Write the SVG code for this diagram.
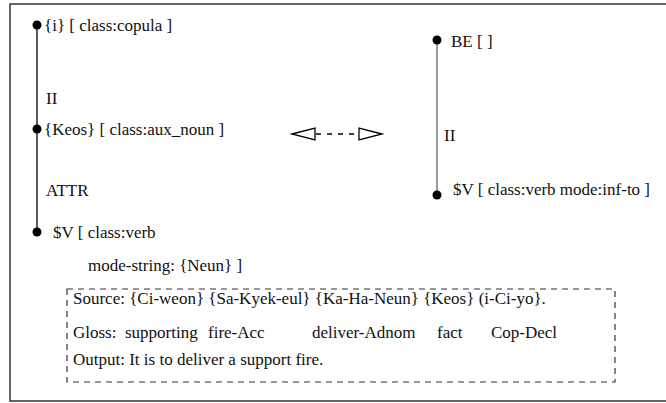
<svg xmlns="http://www.w3.org/2000/svg" width="666" height="403" viewBox="0 0 666 403">
  <style>
    text { font-family: "Liberation Serif", "DejaVu Serif", "Times New Roman", Times, serif; font-size: 17px; fill: #111; }
    .dot { fill: #000; }
    .edge { stroke: #000; stroke-width: 1.3; fill: none; }
    .edge-gray { stroke: #777; stroke-width: 1.5; fill: none; }
    .frame { fill: #fff; stroke: #333; stroke-width: 1.5; }
    .example { fill: none; stroke: #333; stroke-width: 1.2; stroke-dasharray: 6 5; }
    .arrow { fill: #fff; stroke: #000; stroke-width: 1.3; }
    .dash { stroke: #000; stroke-width: 1.3; stroke-dasharray: 5 6; }
  </style>

  <!-- outer frame (open to the right edge) -->
  <rect class="frame" x="10" y="4" width="680" height="397"/>

  <!-- connectors -->
  <g id="connectors">
    <line class="edge" x1="37" y1="25" x2="37" y2="232"/>
    <line class="edge-gray" x1="437" y1="40" x2="437" y2="195"/>
    <!-- transfer arrow between the two trees -->
    <polygon class="arrow" points="292,134 315,128 315,140"/>
    <line class="dash" x1="316" y1="134" x2="359" y2="134"/>
    <polygon class="arrow" points="382,134 359,128 359,140"/>
  </g>

  <!-- left tree -->
  <g id="node-copula">
    <circle class="dot" cx="37" cy="25" r="4.5"/>
    <text x="44" y="31">{i} [ class:copula ]</text>
  </g>
  <g id="label-ii-left">
    <text x="46" y="104">II</text>
  </g>
  <g id="node-keos">
    <circle class="dot" cx="37" cy="129" r="4.5"/>
    <text x="44" y="135">{Keos} [ class:aux_noun ]</text>
  </g>
  <g id="label-attr">
    <text x="46" y="196">ATTR</text>
  </g>
  <g id="node-verb-left">
    <circle class="dot" cx="37" cy="232" r="4.5"/>
    <text x="53" y="238">$V [ class:verb</text>
    <text x="88" y="271">mode-string: {Neun} ]</text>
  </g>

  <!-- right tree -->
  <g id="node-be">
    <circle class="dot" cx="437" cy="40" r="4.5"/>
    <text x="451" y="47">BE [ ]</text>
  </g>
  <g id="label-ii-right">
    <text x="444" y="141">II</text>
  </g>
  <g id="node-verb-right">
    <circle class="dot" cx="437" cy="195" r="4.5"/>
    <text x="453" y="195">$V [ class:verb mode:inf-to ]</text>
  </g>

  <!-- example sentence box -->
  <g id="example">
    <rect class="example" x="67" y="289" width="548" height="93"/>
    <text x="73" y="304">Source: {Ci-weon} {Sa-Kyek-eul} {Ka-Ha-Neun} {Keos} (i-Ci-yo}.</text>
    <text x="73" y="338">Gloss:</text>
    <text x="125" y="338">supporting</text>
    <text x="208" y="338">fire-Acc</text>
    <text x="312" y="338">deliver-Adnom</text>
    <text x="437" y="338">fact</text>
    <text x="491" y="338">Cop-Decl</text>
    <text x="73" y="365">Output: It is to deliver a support fire.</text>
  </g>
</svg>
